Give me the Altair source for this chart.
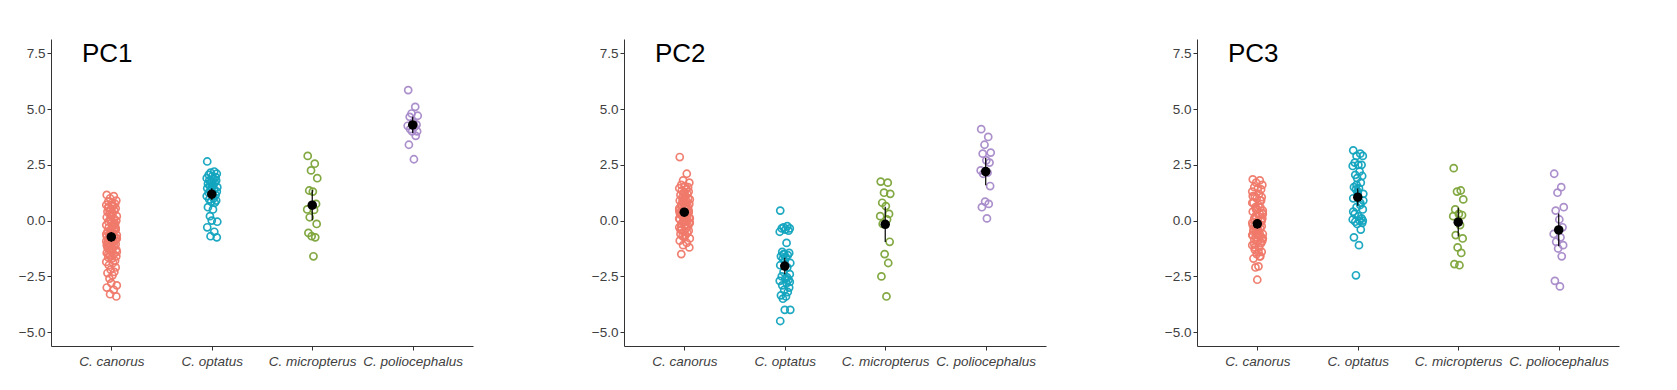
import altair as alt
import pandas as pd

SPECIES = ["C. canorus", "C. optatus", "C. micropterus", "C. poliocephalus"]
COLORS = ["#F07A6B", "#13A5BF", "#7DA53A", "#A88BCA"]
PANELS = ["PC1", "PC2", "PC3"]
Y_TICKS = [-5.0, -2.5, 0.0, 2.5, 5.0, 7.5]
JITTER = [-0.045, 0.025, -0.012, 0.05, -0.03, 0.006, 0.038, -0.05, 0.018,
          -0.025, 0.044, -0.006, 0.03, -0.038, 0.012, -0.018, 0.0, 0.055]

# ---- PC1 ----
PC1_CANORUS = [1.15, 1.1, 1.0, 0.9, 0.85, 0.8, 0.75, 0.7, 0.65, 0.6, 0.55, 0.5,
               0.45, 0.4, 0.35, 0.3, 0.25, 0.2, 0.15, 0.1, 0.05, 0.0, -0.05, -0.1,
               -0.15, -0.2, -0.25, -0.3, -0.35, -0.4, -0.45, -0.5, -0.55, -0.6,
               -0.62, -0.65, -0.7, -0.72, -0.75, -0.8, -0.82, -0.85, -0.9, -0.92,
               -0.95, -1.0, -1.05, -1.1, -1.15, -1.2, -1.25, -1.3, -1.35, -1.4,
               -1.45, -1.5, -1.55, -1.6, -1.65, -1.7, -1.8, -1.85, -1.9, -2.0,
               -2.1, -2.2, -2.3, -2.35, -2.45, -2.6, -2.8, -2.9, -3.0, -3.1,
               -3.3, -3.4, 0.6, 0.3, -0.3, -0.6, -0.9, -1.2, -0.4, 0.0, -0.1,
               -1.0, 0.7, 0.45, -0.5, -0.8, -1.1, -0.2, -0.7, -1.3, -1.5]
PC1_OPTATUS = [2.65, 2.2, 2.15, 2.1, 2.05, 2.0, 1.95, 1.9, 1.85, 1.8, 1.8, 1.75,
               1.7, 1.65, 1.6, 1.55, 1.5, 1.5, 1.45, 1.4, 1.35, 1.3, 1.25, 1.2,
               1.15, 1.1, 1.0, 0.95, 0.9, 0.85, 0.8, 0.6, 0.5, 0.2, 0.0, -0.05,
               -0.3, -0.5, -0.7, -0.75]
PC1_MICROPTERUS = [2.9, 2.55, 2.25, 1.9, 1.35, 1.3, 0.75, 0.5, 0.48, 0.15, -0.15,
                   -0.7, -0.75, -0.55, -1.6]
PC1_POLIO = [5.85, 5.1, 4.8, 4.7, 4.65, 4.4, 4.3, 4.25, 4.2, 4.1, 4.0, 4.0, 3.8,
             3.4, 2.75]

# ---- PC2 ----
PC2_CANORUS = [2.85, 2.1, 1.8, 1.7, 1.6, 1.55, 1.5, 1.45, 1.4, 1.35, 1.3, 1.25,
               1.2, 1.15, 1.1, 1.05, 1.0, 0.95, 0.9, 0.85, 0.8, 0.75, 0.7, 0.65,
               0.6, 0.55, 0.5, 0.45, 0.4, 0.35, 0.3, 0.28, 0.25, 0.2, 0.15, 0.1,
               0.05, 0.0, -0.05, -0.1, -0.15, -0.2, -0.25, -0.3, -0.35, -0.4,
               -0.45, -0.5, -0.55, -0.6, -0.65, -0.7, -0.75, -0.8, -0.9, -1.0,
               -1.1, -1.2, -1.5, 0.3, 0.5, 0.1, -0.2, 0.7, 0.4, 0.0, 0.2, -0.4,
               0.6, 0.9, 1.2, -0.1, 0.35, 0.55, 0.25, 0.15, -0.3, 0.8, 1.0, 0.45]
PC2_OPTATUS = [0.45, -0.25, -0.3, -0.35, -0.35, -0.4, -0.45, -0.5, -1.0, -1.4,
               -1.45, -1.5, -1.55, -1.6, -1.65, -1.7, -1.8, -1.9, -2.0, -2.1,
               -2.3, -2.4, -2.5, -2.6, -2.65, -2.7, -2.8, -2.9, -3.0, -3.1,
               -3.2, -3.35, -3.4, -3.5, -4.0, -4.0, -4.5, -2.55, -1.5, -2.75]
PC2_MICROPTERUS = [1.75, 1.7, 1.25, 1.2, 0.8, 0.65, 0.3, 0.2, 0.05, -0.15, -0.95,
                   -1.5, -1.9, -2.5, -3.4]
PC2_POLIO = [4.1, 3.75, 3.4, 3.05, 3.0, 2.7, 2.6, 2.25, 2.15, 2.1, 1.55, 0.85,
             0.75, 0.6, 0.1]

# ---- PC3 ----
PC3_CANORUS = [1.85, 1.8, 1.7, 1.6, 1.5, 1.45, 1.4, 1.3, 1.2, 1.1, 1.05, 1.0,
               0.9, 0.8, 0.7, 0.6, 0.5, 0.45, 0.4, 0.3, 0.2, 0.1, 0.05, 0.0,
               -0.05, -0.1, -0.15, -0.2, -0.25, -0.3, -0.35, -0.4, -0.45, -0.5,
               -0.55, -0.6, -0.65, -0.7, -0.75, -0.8, -0.85, -0.9, -1.0, -1.1,
               -1.2, -1.3, -1.4, -1.5, -1.6, -1.7, -2.05, -2.1, -2.65, 0.3,
               -0.2, -0.6, 0.5, -0.9, 0.1, -0.4, -1.0, 0.8, -0.7, -1.2, 0.0,
               -0.3, 0.6, -0.5, -1.4, 0.2, -0.1, -0.8, 1.1, -1.6, -0.45, 0.35,
               -1.05, -0.25, 0.9, -0.65]
PC3_OPTATUS = [3.15, 3.0, 2.9, 2.9, 2.6, 2.5, 2.5, 2.45, 2.2, 2.05, 2.0, 1.9,
               1.7, 1.5, 1.45, 1.4, 1.2, 1.2, 1.0, 0.8, 0.6, 0.5, 0.3, 0.2, 0.1,
               0.05, 0.0, -0.05, -0.1, -0.15, -0.4, -0.75, -1.1, -2.45, 1.3,
               0.9, 0.4, 0.7, 1.6, 0.0]
PC3_MICROPTERUS = [2.35, 1.35, 1.3, 0.95, 0.5, 0.3, 0.25, 0.2, -0.2, -0.65, -0.8,
                   -1.2, -1.45, -1.95, -2.0]
PC3_POLIO = [2.1, 1.5, 1.25, 0.6, 0.45, 0.05, -0.3, -0.6, -0.75, -0.95, -1.1,
             -1.25, -1.6, -2.7, -2.95]

GROUPS = {
    "PC1": [PC1_CANORUS, PC1_OPTATUS, PC1_MICROPTERUS, PC1_POLIO],
    "PC2": [PC2_CANORUS, PC2_OPTATUS, PC2_MICROPTERUS, PC2_POLIO],
    "PC3": [PC3_CANORUS, PC3_OPTATUS, PC3_MICROPTERUS, PC3_POLIO],
}

rows = []
for pc in PANELS:
    for si, vals in enumerate(GROUPS[pc]):
        for k, v in enumerate(vals):
            rows.append({"pc": pc, "species": SPECIES[si], "pos": si + 1,
                         "jit": si + 1 + JITTER[k % len(JITTER)], "value": v})
df = pd.DataFrame(rows)

label_js = "[''," + ",".join("'%s'" % s for s in SPECIES) + "][datum.value]"
xs = alt.Scale(domain=[0.4, 4.6], nice=False, zero=False)
ys = alt.Scale(domain=[-5.62, 8.14], nice=False, zero=False)
xaxis = alt.Axis(values=[1, 2, 3, 4], labelExpr=label_js, title=None, grid=False,
                 labelFontStyle="italic", labelPadding=4, labelFontSize=13.5)
yaxis = alt.Axis(values=Y_TICKS, format=".1f", title=None, labelPadding=2, grid=False,
                 minExtent=36, maxExtent=36)


def panel(pc):
    base = alt.Chart(df).transform_filter(alt.datum.pc == pc)
    pts = base.mark_point(shape="circle", filled=False, size=50,
                          strokeWidth=1.7, opacity=0.95).encode(
        x=alt.X("jit:Q", scale=xs, axis=xaxis),
        y=alt.Y("value:Q", scale=ys, axis=yaxis),
        color=alt.Color("species:N", scale=alt.Scale(domain=SPECIES, range=COLORS),
                        legend=None),
    )
    stats = base.transform_aggregate(
        m="mean(value)", se="stderr(value)", groupby=["species", "pos"]
    ).transform_calculate(lo="datum.m - 1.96*datum.se", hi="datum.m + 1.96*datum.se")
    err = stats.mark_rule(color="black", strokeWidth=1.2).encode(
        x=alt.X("pos:Q", scale=xs, axis=xaxis),
        y=alt.Y("lo:Q", scale=ys, axis=yaxis), y2="hi:Q")
    mean = stats.mark_circle(color="black", size=90, opacity=1).encode(
        x=alt.X("pos:Q", scale=xs, axis=xaxis),
        y=alt.Y("m:Q", scale=ys, axis=yaxis))
    txt = alt.Chart(pd.DataFrame({"t": [pc]})).mark_text(
        align="left", baseline="middle", fontSize=26, font="Liberation Sans",
        color="black").encode(x=alt.value(31), y=alt.value(15), text="t:N")
    return alt.layer(pts, err, mean, txt).properties(width=422, height=307)


chart = alt.hconcat(*[panel(p) for p in PANELS], spacing=151, bounds="flush").properties(
    padding={"left": 7, "top": 31, "right": 5, "bottom": 5},
    background="white",
).configure_axis(
    domainColor="#333333", tickColor="#333333", tickSize=4, grid=False,
    labelColor="#404040", labelFont="Liberation Sans", labelFontSize=13.5,
    domainWidth=1, tickWidth=1,
).configure_view(stroke=None)

chart.save("out.html", embed_options={"renderer": "svg", "actions": False})
